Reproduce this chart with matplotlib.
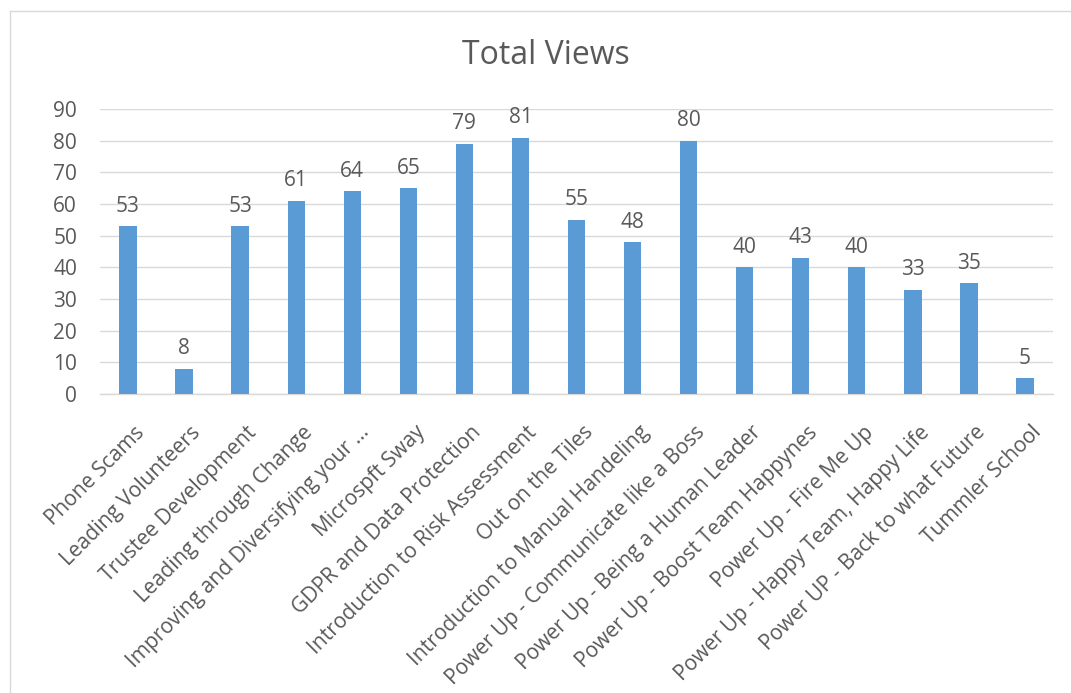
import matplotlib
matplotlib.use("Agg")
import matplotlib.pyplot as plt
from matplotlib.lines import Line2D

categories = [
    "Phone Scams", "Leading Volunteers", "Trustee Development", "Leading through Change",
    "Improving and Diversifying your ...", "Microspft Sway", "GDPR and Data Protection",
    "Introduction to Risk Assessment", "Out on the Tiles", "Introduction to Manual Handeling",
    "Power Up - Communicate like a Boss", "Power Up - Being a Human Leader",
    "Power Up - Boost Team Happynes", "Power Up - Fire Me Up",
    "Power Up - Happy Team, Happy Life", "Power UP - Back to what Future", "Tummler School",
]
views = [53, 8, 53, 61, 64, 65, 79, 81, 55, 48, 80, 40, 43, 40, 33, 35, 5]
yticks = [0, 10, 20, 30, 40, 50, 60, 70, 80, 90]

plt.rcParams['font.family'] = ['Open Sans', 'DejaVu Sans']
txt = '#595959'
W, H = 1071, 693
FS = 15

fig = plt.figure(figsize=(W/100, H/100), dpi=100)
# chart frame: only top and left edges visible
fig.add_artist(Line2D([9.5/W, 1], [1-10.5/H, 1-10.5/H], transform=fig.transFigure, color='#d9d9d9', lw=1))
fig.add_artist(Line2D([9.5/W, 9.5/W], [0, 1-10.5/H], transform=fig.transFigure, color='#d9d9d9', lw=1))

ax = fig.add_axes([100/W, 1-394/H, 953/W, 285/H])
x = list(range(len(categories)))
ax.bar(x, views, width=0.31, color='#5b9bd5', zorder=3)
for xi, v in zip(x, views):
    ax.text(xi, v + 3, str(v), ha='center', va='bottom', fontsize=FS, color=txt)
ax.set_xlim(-0.5, len(categories) - 0.5)
ax.set_ylim(0, 90)
ax.set_yticks(yticks)
ax.set_yticklabels([str(t) for t in yticks], fontsize=FS, color=txt)
ax.set_xticks(x)
ax.set_xticklabels([])
for xi, cat in zip(x, categories):
    ax.annotate(cat, xy=(xi, 0), xycoords=('data', 'axes fraction'),
                xytext=(6, -28), textcoords='offset pixels',
                rotation=45, ha='right', va='top', rotation_mode='anchor',
                fontsize=15.1, color=txt, annotation_clip=False)
ax.tick_params(axis='both', length=0)
ax.tick_params(axis='y', pad=16.5)
ax.grid(axis='y', color='#d9d9d9', linewidth=1, zorder=0)
for s in ['top', 'right', 'left']:
    ax.spines[s].set_visible(False)
ax.spines['bottom'].set_color('#d9d9d9')
ax.spines['bottom'].set_linewidth(1)
fig.text(546/W, 1-55/H, "Total Views", ha='center', va='center', fontsize=23, color=txt)
fig.savefig("out.png", dpi=100)
